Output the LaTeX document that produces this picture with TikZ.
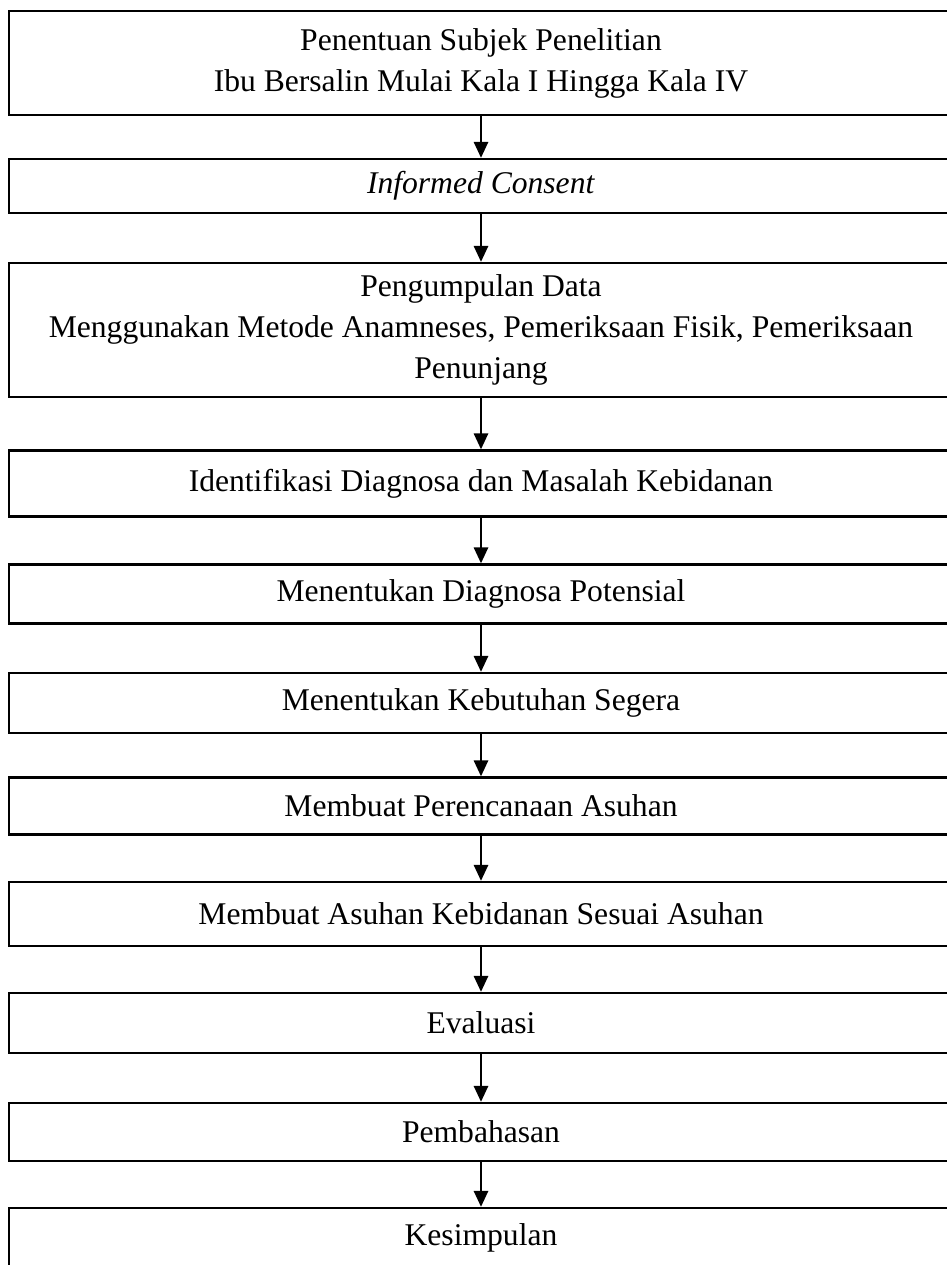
\documentclass[tikz,border=0pt]{standalone}
\usepackage{fontspec}
\setmainfont{Liberation Serif}
\usetikzlibrary{arrows.meta}
\tikzset{
    langkah/.style={
        draw, rectangle, line width=1.1pt, inner sep=0pt,
        minimum width=472pt, align=center,
        font=\fontsize{15.8}{20.5}\selectfont
    },
    panah/.style={
        -{Triangle[length=8pt, width=7pt]}, line width=1.4pt
    },
}

\begin{document}
\begin{tikzpicture}[x=0.5pt, y=-0.5pt]

\useasboundingbox (0,0) rectangle (947,1265);
\clip (0,0) rectangle (947,1265);

% Kotak tiap langkah
\node[langkah, minimum height=52pt]   (subjek)     at (481, 63)   {Penentuan Subjek Penelitian\\Ibu Bersalin Mulai Kala I Hingga Kala IV};
\node[langkah, minimum height=27pt]   (consent)    at (481, 186)  {\textit{Informed Consent}};
\node[langkah, minimum height=67pt]   (data)       at (481, 330)  {Pengumpulan Data\\Menggunakan Metode Anamneses, Pemeriksaan Fisik, Pemeriksaan\\Penunjang};
\node[langkah, minimum height=33pt]   (identif)    at (481, 483.5) {Identifikasi Diagnosa dan Masalah Kebidanan};
\node[langkah, minimum height=29.5pt] (potensial)  at (481, 594)  {Menentukan Diagnosa Potensial};
\node[langkah, minimum height=30pt]   (segera)     at (481, 703)  {Menentukan Kebutuhan Segera};
\node[langkah, minimum height=28.5pt] (rencana)    at (481, 806)  {Membuat Perencanaan Asuhan};
\node[langkah, minimum height=32pt]   (asuhan)     at (481, 914)  {Membuat Asuhan Kebidanan Sesuai Asuhan};
\node[langkah, minimum height=30pt]   (evaluasi)   at (481, 1023) {Evaluasi};
\node[langkah, minimum height=29pt]   (bahas)      at (481, 1132) {Pembahasan};
\node[langkah, minimum height=30pt]   (simpul)     at (481, 1238) {Kesimpulan};

% Panah antar kotak
\foreach \a/\b in {subjek/consent, consent/data, data/identif, identif/potensial,
                   potensial/segera, segera/rencana, rencana/asuhan,
                   asuhan/evaluasi, evaluasi/bahas, bahas/simpul}
    \draw[panah] (\a) -- (\b);

\end{tikzpicture}
\end{document}
